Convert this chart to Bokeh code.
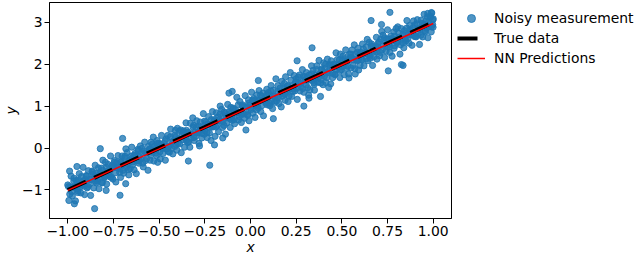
from bokeh.plotting import figure
from bokeh.models import Range1d, FixedTicker, Legend, LegendItem
from bokeh.embed import file_html
from bokeh.resources import INLINE

# ---- data ----
x_noisy = [
    -1.000, -0.994, -0.987, -0.982, -0.979, -0.975, -0.966, -0.961, -0.958, -0.953, -0.950, -0.944, -0.937, -0.932, -0.929, -0.925, -0.916, -0.911, -0.908, -0.903,
    -0.900, -0.894, -0.887, -0.882, -0.879, -0.875, -0.866, -0.861, -0.858, -0.853, -0.850, -0.844, -0.837, -0.832, -0.829, -0.825, -0.816, -0.811, -0.808, -0.803,
    -0.800, -0.794, -0.787, -0.782, -0.779, -0.775, -0.766, -0.761, -0.758, -0.753, -0.750, -0.744, -0.737, -0.732, -0.729, -0.725, -0.716, -0.711, -0.708, -0.703,
    -0.700, -0.694, -0.687, -0.682, -0.679, -0.675, -0.666, -0.661, -0.658, -0.653, -0.650, -0.644, -0.637, -0.632, -0.629, -0.625, -0.616, -0.611, -0.608, -0.603,
    -0.600, -0.594, -0.587, -0.582, -0.579, -0.575, -0.566, -0.561, -0.558, -0.553, -0.550, -0.544, -0.537, -0.532, -0.529, -0.525, -0.516, -0.511, -0.508, -0.503,
    -0.500, -0.494, -0.487, -0.482, -0.479, -0.475, -0.466, -0.461, -0.458, -0.453, -0.450, -0.444, -0.437, -0.432, -0.429, -0.425, -0.416, -0.411, -0.408, -0.403,
    -0.400, -0.394, -0.387, -0.382, -0.379, -0.375, -0.366, -0.361, -0.358, -0.353, -0.350, -0.344, -0.337, -0.332, -0.329, -0.325, -0.316, -0.311, -0.308, -0.303,
    -0.300, -0.294, -0.287, -0.282, -0.279, -0.275, -0.266, -0.261, -0.258, -0.253, -0.250, -0.244, -0.237, -0.232, -0.229, -0.225, -0.216, -0.211, -0.208, -0.203,
    -0.200, -0.194, -0.187, -0.182, -0.179, -0.175, -0.166, -0.161, -0.158, -0.153, -0.150, -0.144, -0.137, -0.132, -0.129, -0.125, -0.116, -0.111, -0.108, -0.103,
    -0.100, -0.094, -0.087, -0.082, -0.079, -0.075, -0.066, -0.061, -0.058, -0.053, -0.050, -0.044, -0.037, -0.032, -0.029, -0.025, -0.016, -0.011, -0.008, -0.003,
    0.000, 0.006, 0.013, 0.018, 0.021, 0.025, 0.034, 0.039, 0.042, 0.047, 0.050, 0.056, 0.063, 0.068, 0.071, 0.075, 0.084, 0.089, 0.092, 0.097,
    0.100, 0.106, 0.113, 0.118, 0.121, 0.125, 0.134, 0.139, 0.142, 0.147, 0.150, 0.156, 0.163, 0.168, 0.171, 0.175, 0.184, 0.189, 0.192, 0.197,
    0.200, 0.206, 0.213, 0.218, 0.221, 0.225, 0.234, 0.239, 0.242, 0.247, 0.250, 0.256, 0.263, 0.268, 0.271, 0.275, 0.284, 0.289, 0.292, 0.297,
    0.300, 0.306, 0.313, 0.318, 0.321, 0.325, 0.334, 0.339, 0.342, 0.347, 0.350, 0.356, 0.363, 0.368, 0.371, 0.375, 0.384, 0.389, 0.392, 0.397,
    0.400, 0.406, 0.413, 0.418, 0.421, 0.425, 0.434, 0.439, 0.442, 0.447, 0.450, 0.456, 0.463, 0.468, 0.471, 0.475, 0.484, 0.489, 0.492, 0.497,
    0.500, 0.506, 0.513, 0.518, 0.521, 0.525, 0.534, 0.539, 0.542, 0.547, 0.550, 0.556, 0.563, 0.568, 0.571, 0.575, 0.584, 0.589, 0.592, 0.597,
    0.600, 0.606, 0.613, 0.618, 0.621, 0.625, 0.634, 0.639, 0.642, 0.647, 0.650, 0.656, 0.663, 0.668, 0.671, 0.675, 0.684, 0.689, 0.692, 0.697,
    0.700, 0.706, 0.713, 0.718, 0.721, 0.725, 0.734, 0.739, 0.742, 0.747, 0.750, 0.756, 0.763, 0.768, 0.771, 0.775, 0.784, 0.789, 0.792, 0.797,
    0.800, 0.806, 0.813, 0.818, 0.821, 0.825, 0.834, 0.839, 0.842, 0.847, 0.850, 0.856, 0.863, 0.868, 0.871, 0.875, 0.884, 0.889, 0.892, 0.897,
    0.900, 0.906, 0.913, 0.918, 0.921, 0.925, 0.934, 0.939, 0.942, 0.947, 0.950, 0.956, 0.963, 0.968, 0.971, 0.975, 0.984, 0.989, 0.992, 0.997,
]
y_noisy = [
    -0.88, -1.25, -0.93, -0.67, -1.04, -1.14, -0.72, -0.92, -1.26, -0.77, -0.81, -1.02, -0.61, -0.93, -1.07, -0.68, -0.46, -0.86, -1.11, -0.75,
    -0.66, -0.95, -0.54, -0.87, -0.75, -1.13, -0.55, -0.63, -0.95, -0.68, -0.41, -0.83, -0.74, -0.47, -0.97, -0.58, -0.48, -0.83, -0.29, -0.66,
    -0.71, -0.34, -0.86, -0.55, -0.39, -0.63, -0.19, -0.70, -0.42, -0.74, -0.44, -0.30, -0.81, -0.35, -0.47, -0.18, -0.58, -0.70, -0.33, -0.19,
    -0.40, -0.60, -0.20, -0.02, -0.46, -0.11, -0.64, -0.29, -0.49, -0.20, 0.02, -0.33, -0.52, -0.13, -0.19, -0.61, -0.03, -0.36, -0.20, 0.05,
    -0.26, -0.01, -0.45, -0.07, 0.14, -0.30, -0.11, -0.53, 0.04, -0.04, -0.29, 0.14, -0.10, 0.26, -0.31, 0.04, -0.12, 0.18, -0.34, 0.02,
    0.11, -0.26, 0.30, -0.01, -0.13, 0.11, -0.29, 0.22, -0.02, 0.30, 0.04, -0.10, 0.45, -0.01, 0.15, -0.14, 0.30, 0.42, 0.09, -0.05,
    0.47, 0.22, 0.10, 0.43, -0.11, 0.31, 0.41, 0.02, 0.25, 0.60, 0.42, 0.13, 0.37, 0.02, 0.59, 0.24, 0.72, 0.54, 0.18, 0.38,
    0.28, 0.65, 0.37, 0.11, 0.52, 0.62, 0.24, 0.44, 0.82, 0.33, 0.41, 0.62, 0.25, 0.57, 0.75, 0.36, 0.18, 0.58, 0.87, 0.51,
    0.64, 0.28, 0.84, 0.54, 0.74, 0.39, 1.00, 0.64, 0.92, 0.49, 0.78, 0.86, 0.33, 0.75, 0.60, 1.04, 0.87, 0.49, 0.97, 0.72,
    0.66, 0.95, 0.58, 0.91, 0.83, 1.21, 0.67, 0.75, 1.11, 0.84, 0.61, 1.03, 0.98, 0.71, 1.25, 0.86, 0.80, 1.15, 0.65, 1.02,
    0.96, 1.33, 0.83, 1.18, 1.12, 0.73, 1.27, 1.00, 0.95, 1.37, 1.14, 0.87, 1.23, 1.31, 0.77, 1.15, 1.07, 1.40, 1.03, 1.32,
    1.26, 1.01, 1.49, 1.11, 0.94, 1.38, 1.23, 1.65, 1.12, 1.20, 1.49, 1.06, 1.34, 0.98, 1.59, 1.24, 1.44, 1.14, 1.70, 1.34,
    1.47, 1.11, 1.40, 1.80, 1.62, 1.23, 1.41, 1.73, 1.36, 1.57, 1.65, 1.16, 1.54, 1.74, 1.36, 1.46, 1.87, 1.61, 1.33, 1.70,
    1.60, 1.80, 1.44, 1.26, 1.74, 1.39, 1.96, 1.61, 1.85, 1.56, 1.38, 1.73, 1.96, 1.57, 1.67, 2.09, 1.55, 1.88, 1.76, 1.51,
    2.03, 1.89, 1.56, 1.68, 2.12, 1.83, 1.99, 1.53, 2.08, 1.94, 1.68, 2.00, 1.76, 2.27, 1.87, 2.11, 1.99, 1.68, 2.24, 1.87,
    1.94, 2.19, 1.75, 2.13, 2.34, 1.90, 2.09, 1.67, 2.24, 2.16, 1.91, 2.34, 2.10, 2.46, 1.89, 2.24, 2.08, 2.38, 1.86, 2.22,
    1.97, 2.11, 2.48, 2.36, 1.96, 2.25, 2.13, 2.59, 2.08, 2.22, 2.52, 2.20, 2.48, 1.97, 2.41, 2.17, 2.33, 2.64, 2.12, 2.49,
    2.40, 2.20, 2.60, 2.78, 2.34, 2.69, 2.16, 2.51, 2.31, 2.60, 2.82, 2.47, 2.28, 2.67, 2.61, 2.19, 2.77, 2.44, 2.60, 2.85,
    2.53, 2.89, 2.64, 2.24, 2.46, 2.85, 2.71, 2.39, 2.80, 2.59, 2.55, 3.04, 2.70, 2.50, 2.92, 2.82, 2.45, 2.71, 3.03, 2.66,
    2.94, 2.65, 3.06, 2.73, 2.85, 2.47, 3.05, 2.97, 2.65, 2.92, 3.19, 2.77, 2.86, 3.13, 2.63, 3.02, 3.12, 2.77, 3.22, 2.94,
]
# points in the dense core of the band
x_core = [
    -0.996, -0.989, -0.973, -0.967, -0.951, -0.945, -0.938, -0.922, -0.914, -0.910,
    -0.896, -0.889, -0.873, -0.867, -0.851, -0.845, -0.838, -0.822, -0.814, -0.810,
    -0.796, -0.789, -0.773, -0.767, -0.751, -0.745, -0.738, -0.722, -0.714, -0.710,
    -0.696, -0.689, -0.673, -0.667, -0.651, -0.645, -0.638, -0.622, -0.614, -0.610,
    -0.596, -0.589, -0.573, -0.567, -0.551, -0.545, -0.538, -0.522, -0.514, -0.510,
    -0.496, -0.489, -0.473, -0.467, -0.451, -0.445, -0.438, -0.422, -0.414, -0.410,
    -0.396, -0.389, -0.373, -0.367, -0.351, -0.345, -0.338, -0.322, -0.314, -0.310,
    -0.296, -0.289, -0.273, -0.267, -0.251, -0.245, -0.238, -0.222, -0.214, -0.210,
    -0.196, -0.189, -0.173, -0.167, -0.151, -0.145, -0.138, -0.122, -0.114, -0.110,
    -0.096, -0.089, -0.073, -0.067, -0.051, -0.045, -0.038, -0.022, -0.014, -0.010,
    0.004, 0.011, 0.027, 0.033, 0.049, 0.055, 0.062, 0.078, 0.086, 0.090,
    0.104, 0.111, 0.127, 0.133, 0.149, 0.155, 0.162, 0.178, 0.186, 0.190,
    0.204, 0.211, 0.227, 0.233, 0.249, 0.255, 0.262, 0.278, 0.286, 0.290,
    0.304, 0.311, 0.327, 0.333, 0.349, 0.355, 0.362, 0.378, 0.386, 0.390,
    0.404, 0.411, 0.427, 0.433, 0.449, 0.455, 0.462, 0.478, 0.486, 0.490,
    0.504, 0.511, 0.527, 0.533, 0.549, 0.555, 0.562, 0.578, 0.586, 0.590,
    0.604, 0.611, 0.627, 0.633, 0.649, 0.655, 0.662, 0.678, 0.686, 0.690,
    0.704, 0.711, 0.727, 0.733, 0.749, 0.755, 0.762, 0.778, 0.786, 0.790,
    0.804, 0.811, 0.827, 0.833, 0.849, 0.855, 0.862, 0.878, 0.886, 0.890,
    0.904, 0.911, 0.927, 0.933, 0.949, 0.955, 0.962, 0.978, 0.986, 0.990, 0.998,
]
y_core = [
    -0.92, -1.10, -0.93, -0.79, -0.97, -1.06, -0.77, -0.88, -0.78, -0.91,
    -0.67, -0.92, -0.75, -0.57, -0.79, -0.60, -0.79, -0.62, -0.82, -0.53,
    -0.68, -0.46, -0.59, -0.69, -0.47, -0.34, -0.59, -0.44, -0.50, -0.33,
    -0.53, -0.24, -0.37, -0.51, -0.25, -0.40, -0.17, -0.30, -0.06, -0.31,
    -0.11, -0.36, -0.12, -0.25, -0.02, -0.17, 0.09, -0.05, -0.18, 0.11,
    -0.09, 0.08, 0.02, 0.17, -0.08, 0.05, 0.27, 0.17, 0.04, 0.26,
    0.11, 0.40, 0.20, 0.37, 0.18, 0.37, 0.15, 0.33, 0.50, 0.25,
    0.49, 0.36, 0.46, 0.35, 0.64, 0.55, 0.37, 0.51, 0.68, 0.50,
    0.68, 0.50, 0.67, 0.81, 0.63, 0.54, 0.83, 0.72, 0.82, 0.69,
    0.93, 0.68, 0.85, 1.03, 0.81, 1.00, 0.81, 0.98, 0.78, 1.07,
    0.92, 1.14, 1.01, 0.91, 1.13, 1.26, 1.01, 1.16, 1.10, 1.27,
    1.07, 1.36, 1.23, 1.09, 1.35, 1.20, 1.43, 1.30, 1.54, 1.29,
    1.49, 1.24, 1.48, 1.35, 1.58, 1.43, 1.69, 1.55, 1.42, 1.71,
    1.51, 1.68, 1.62, 1.77, 1.52, 1.65, 1.87, 1.77, 1.64, 1.86,
    1.71, 2.00, 1.80, 1.97, 1.78, 1.97, 1.75, 1.93, 2.10, 1.85,
    2.09, 1.96, 2.06, 1.95, 2.24, 2.15, 1.97, 2.11, 2.28, 2.10,
    2.28, 2.10, 2.27, 2.41, 2.23, 2.14, 2.43, 2.32, 2.42, 2.29,
    2.53, 2.28, 2.45, 2.63, 2.41, 2.60, 2.41, 2.58, 2.38, 2.67,
    2.52, 2.74, 2.61, 2.51, 2.73, 2.86, 2.61, 2.76, 2.70, 2.87,
    2.67, 2.96, 2.83, 2.69, 2.95, 2.80, 3.03, 2.90, 3.14, 2.89, 3.05,
]
# isolated points read individually
x_outlier = [1.000, 0.999, -0.853, -0.964, -0.714, -0.683, -0.790, -0.822, -0.700, -0.340,
             -0.223, -0.197, -0.279, -0.118, -0.100, -0.025, 0.125, 0.255, 0.043, 0.292,
             -0.152, 0.763, 0.660, 0.717, 0.754, 0.826, 0.835, 0.337, 0.428, 0.383,
             0.320, 0.573, 0.537, 0.970, 0.990, -0.990, -0.950]
y_outlier = [3.08, 2.88, -1.445, -1.33, -1.126, -0.85, -1.01, -0.015, 0.23, -0.31,
             -0.41, 0.075, 0.05, 1.31, 1.35, 0.43, 0.70, 2.08, 1.61, 1.00,
             0.24, 3.235, 3.04, 2.945, 1.84, 1.99, 1.97, 2.39, 1.445, 1.23,
             1.19, 1.765, 1.765, 3.21, 3.23, -0.55, -0.44]

x_true = [-1.0, 1.0]
y_true = [-1.0, 3.0]
x_pred = [-1.0, -0.5, 0.0, 0.5, 1.0]
y_pred = [-1.01, -0.02, 0.98, 1.98, 2.97]

x_ticks = [-1.0, -0.75, -0.5, -0.25, 0.0, 0.25, 0.5, 0.75, 1.0]
x_tick_labels = ["−1.00", "−0.75", "−0.50", "−0.25", "0.00", "0.25", "0.50", "0.75", "1.00"]
y_ticks = [-1.0, 0.0, 1.0, 2.0, 3.0]
y_tick_labels = ["−1", "0", "1", "2", "3"]

series_labels = ["Noisy measurement", "True data", "NN Predictions"]

FONT = "DejaVu Sans"
FS = "13.9px"

p = figure(frame_width=402, frame_height=216, output_backend="svg", toolbar_location=None,
           x_range=Range1d(-1.1, 1.1), y_range=Range1d(-1.68, 3.47),
           min_border_left=41, min_border_right=0, min_border_top=2,
           min_border_bottom=30)
p.xgrid.visible = False
p.ygrid.visible = False
p.outline_line_color = "black"
p.outline_line_alpha = 1.0
p.outline_line_width = 1
p.background_fill_color = "white"
p.border_fill_color = "white"

p.xaxis.ticker = FixedTicker(ticks=x_ticks)
p.xaxis.major_label_overrides = dict(zip(x_ticks, x_tick_labels))
p.yaxis.ticker = FixedTicker(ticks=y_ticks)
p.yaxis.major_label_overrides = dict(zip(y_ticks, y_tick_labels))
p.xaxis.axis_label = "x"
p.yaxis.axis_label = "y"
for ax in (p.xaxis, p.yaxis):
    ax.axis_line_color = "black"
    ax.axis_line_width = 1
    ax.major_tick_line_color = "black"
    ax.major_tick_line_width = 1
    ax.major_tick_out = 5
    ax.major_tick_in = 0
    ax.minor_tick_out = 0
    ax.minor_tick_in = 0
    ax.major_label_text_font = FONT
    ax.major_label_text_font_size = FS
    ax.major_label_text_color = "black"
    ax.major_label_standoff = 2
    ax.axis_label_text_font = FONT
    ax.axis_label_text_font_size = FS
    ax.axis_label_text_font_style = "italic"
    ax.axis_label_text_color = "black"
    ax.axis_label_standoff = 0

r_pts = p.scatter(x_noisy + x_core + x_outlier, y_noisy + y_core + y_outlier, size=6.2,
                  fill_color="#1f77b4", line_color="#1f77b4",
                  fill_alpha=0.78, line_alpha=0.85, line_width=1)
r_true = p.line(x_true, y_true, line_color="black", line_width=4, line_dash="20 9")
r_pred = p.line(x_pred, y_pred, line_color="red", line_width=1.5)

lg = Legend(items=[LegendItem(label=series_labels[0], renderers=[r_pts]),
                   LegendItem(label=series_labels[1], renderers=[r_true]),
                   LegendItem(label=series_labels[2], renderers=[r_pred])])
lg.location = "top_left"
lg.glyph_width = 28
lg.glyph_height = 20
lg.label_height = 20
lg.label_standoff = 9
lg.spacing = 0
lg.padding = 6
lg.margin = 0
lg.border_line_alpha = 0
lg.background_fill_alpha = 0
lg.label_text_font = FONT
lg.label_text_font_size = FS
lg.label_text_color = "black"
p.add_layout(lg, "right")

open("out.html", "w").write(file_html(p, INLINE))
